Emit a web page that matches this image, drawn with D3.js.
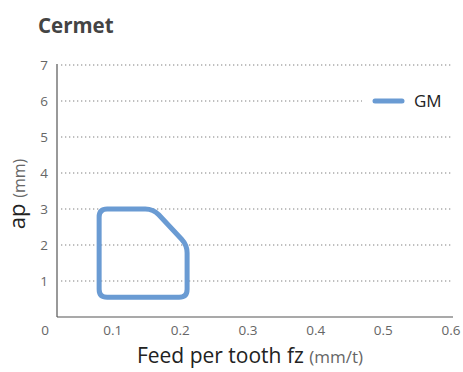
<!DOCTYPE html>
<html>
<head>
<meta charset="utf-8">
<script src="https://cdn.jsdelivr.net/npm/d3@7"></script>
<style>
  html, body { margin: 0; padding: 0; background: #fff; }
  svg { display: block; font-family: "Open Sans", "Noto Sans", sans-serif; }
</style>
</head>
<body>
<svg id="chart" width="463" height="372"></svg>
<script>
// Cutting-range chart for the GM chipbreaker (Cermet grade)
const title = "Cermet";
const xTicks = [0, 0.1, 0.2, 0.3, 0.4, 0.5, 0.6];
const yTicks = [1, 2, 3, 4, 5, 6, 7];
const seriesName = "GM";
// boundary of the recommended region: feed per tooth fz (mm/t), depth ap (mm)
const gmFz = [0.08, 0.08, 0.16, 0.21, 0.21];
const gmAp = [0.55, 3.0, 3.0, 2.0, 0.55];

const svg = d3.select("#chart");
const x = d3.scaleLinear().domain([0, 0.6]).range([45, 451]);
const y = d3.scaleLinear().domain([0, 7]).range([317, 65]);
const axisX0 = 57;

// title
svg.append("text")
  .attr("x", 38).attr("y", 33)
  .attr("font-size", 20.5).attr("font-weight", 700)
  .attr("fill", "#444")
  .text(title);

// dotted gridlines
svg.append("g").selectAll("line")
  .data(yTicks)
  .join("line")
  .attr("x1", axisX0 + 4).attr("x2", 451)
  .attr("y1", d => y(d)).attr("y2", d => y(d))
  .attr("stroke", "#aaa")
  .attr("stroke-width", 1.3)
  .attr("stroke-dasharray", "1.3,2.7");

// axes lines
svg.append("line")
  .attr("x1", axisX0).attr("x2", axisX0)
  .attr("y1", y(7) - 1).attr("y2", y(0))
  .attr("stroke", "#555").attr("stroke-width", 1.2);
svg.append("line")
  .attr("x1", axisX0).attr("x2", 453)
  .attr("y1", y(0)).attr("y2", y(0))
  .attr("stroke", "#555").attr("stroke-width", 1.2);

// y tick labels
svg.append("g").selectAll("text")
  .data(yTicks)
  .join("text")
  .attr("x", 48).attr("y", d => y(d))
  .attr("dy", "0.35em")
  .attr("text-anchor", "end")
  .attr("font-size", 13.5)
  .attr("fill", "#666")
  .text(d => d);

// x tick labels
svg.append("g").selectAll("text")
  .data(xTicks)
  .join("text")
  .attr("x", d => x(d)).attr("y", 335)
  .attr("text-anchor", "middle")
  .attr("font-size", 13.5)
  .attr("fill", "#666")
  .text(d => d === 0 ? "0" : d3.format(".1f")(d));

// axis titles
const xt = svg.append("text")
  .attr("x", 250).attr("y", 363)
  .attr("text-anchor", "middle")
  .attr("fill", "#222");
xt.append("tspan").attr("font-size", 21).text("Feed per tooth fz ");
xt.append("tspan").attr("font-size", 17).attr("fill", "#666").text("(mm/t)");

const yt = svg.append("text")
  .attr("transform", "translate(25,194) rotate(-90)")
  .attr("text-anchor", "middle")
  .attr("fill", "#222");
yt.append("tspan").attr("font-size", 22).text("ap ");
yt.append("tspan").attr("font-size", 16).attr("fill", "#666").text("(mm)");

// region outline with softly rounded corners
const pts = gmFz.map((f, i) => [x(f), y(gmAp[i])]);
function roundedClosedPath(p, r) {
  const n = p.length;
  const path = d3.path();
  const cut = (a, b, d) => {
    const dx = b[0] - a[0], dy = b[1] - a[1];
    const len = Math.hypot(dx, dy);
    const t = Math.min(d, len / 2) / len;
    return [a[0] + dx * t, a[1] + dy * t];
  };
  for (let i = 0; i < n; i++) {
    const prev = p[(i - 1 + n) % n], cur = p[i], next = p[(i + 1) % n];
    const a = cut(cur, prev, r), b = cut(cur, next, r);
    if (i === 0) path.moveTo(a[0], a[1]); else path.lineTo(a[0], a[1]);
    path.quadraticCurveTo(cur[0], cur[1], b[0], b[1]);
  }
  path.closePath();
  return path.toString();
}
svg.append("path")
  .attr("d", roundedClosedPath(pts, 8))
  .attr("fill", "none")
  .attr("stroke", "#6a9bd3")
  .attr("stroke-width", 5)
  .attr("stroke-linejoin", "round");

// legend
const lg = svg.append("g");
lg.append("rect")
  .attr("x", 362).attr("y", 90).attr("width", 90).attr("height", 22)
  .attr("fill", "#fff");
lg.append("line")
  .attr("x1", 375).attr("x2", 402)
  .attr("y1", y(6)).attr("y2", y(6))
  .attr("stroke", "#6a9bd3").attr("stroke-width", 5)
  .attr("stroke-linecap", "round");
lg.append("text")
  .attr("x", 414).attr("y", y(6))
  .attr("dy", "0.36em")
  .attr("font-size", 17)
  .attr("fill", "#222")
  .text(seriesName);
</script>
</body>
</html>
